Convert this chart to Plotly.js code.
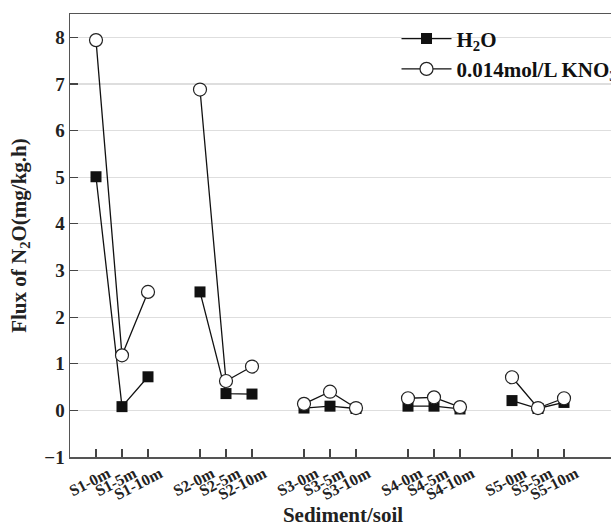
<!DOCTYPE html>
<html>
<head>
<meta charset="utf-8">
<script src="https://cdn.plot.ly/plotly-3.0.1.min.js"></script>
<style>
html,body{margin:0;padding:0;overflow:hidden;background:#fff;}
#chart{width:620px;height:527px;}
</style>
</head>
<body>
<div id="chart"></div>
<script>
const sites = ["S1", "S2", "S3", "S4", "S5"];
const depths = ["0m", "5m", "10m"];
const h2o = [
  [5.01, 0.08, 0.72],
  [2.54, 0.36, 0.35],
  [0.05, 0.09, 0.04],
  [0.09, 0.09, 0.03],
  [0.21, 0.04, 0.17]
];
const kno3 = [
  [7.94, 1.18, 2.54],
  [6.88, 0.63, 0.94],
  [0.14, 0.40, 0.05],
  [0.26, 0.28, 0.07],
  [0.71, 0.05, 0.26]
];

const FONT = "Liberation Serif, Times New Roman, serif";

function build(vals) {
  const xs = [], ys = [];
  sites.forEach((s, g) => {
    depths.forEach((d, j) => {
      xs.push(g * 4 + j + 1);
      ys.push(vals[g][j]);
    });
    if (g < sites.length - 1) { xs.push(g * 4 + 4); ys.push(null); }
  });
  return {xs, ys};
}

const tickvals = [], ticktext = [];
sites.forEach((s, g) => depths.forEach((d, j) => {
  tickvals.push(g * 4 + j + 1);
  ticktext.push(s + "-" + d);
}));

const a = build(h2o), b = build(kno3);

const traces = [
  {
    x: a.xs, y: a.ys, type: "scatter", mode: "lines+markers",
    name: "H<sub>2</sub>O", connectgaps: false,
    line: {color: "#111", width: 1.3},
    marker: {symbol: "square", size: 11, color: "#111", line: {width: 0}}
  },
  {
    x: b.xs, y: b.ys, type: "scatter", mode: "lines+markers",
    name: "0.014mol/L KNO<sub>3</sub>", connectgaps: false,
    line: {color: "#111", width: 1.3},
    marker: {symbol: "circle", size: 13, color: "#fff", line: {width: 1.2, color: "#222"}}
  }
];

const layout = {
  width: 620, height: 527,
  margin: {l: 70, r: 4, t: 14, b: 70, autoexpand: false},
  paper_bgcolor: "#fff", plot_bgcolor: "#fff",
  font: {family: FONT, color: "#222", size: 16, weight: "bold"},
  showlegend: true,
  legend: {
    x: 0.598, y: 0.99, xanchor: "left", yanchor: "top",
    bgcolor: "rgba(255,255,255,0)", borderwidth: 0,
    itemwidth: 50,
    font: {family: FONT, size: 21, color: "#111", weight: "bold"},
    tracegroupgap: 0
  },
  xaxis: {
    range: [0, 21],
    automargin: false,
    tickmode: "array", tickvals: tickvals, ticktext: ticktext,
    tickangle: -27,
    ticklabelshift: 12,
    ticks: "inside", ticklen: 8, tickcolor: "#444", tickwidth: 1.2,
    showgrid: false, zeroline: false,
    showline: true, linecolor: "#555", linewidth: 1.5, mirror: true,
    tickfont: {family: FONT, size: 16, color: "#222", weight: "bold"},
    title: {text: "Sediment/soil", font: {family: FONT, size: 21, color: "#222", weight: "bold"}, standoff: 4}
  },
  yaxis: {
    range: [-1, 8.5],
    automargin: false,
    tickmode: "linear", tick0: -1, dtick: 1,
    ticks: "inside", ticklen: 8, tickcolor: "#444", tickwidth: 1.2,
    showgrid: true, gridcolor: "#dedede", gridwidth: 1.2,
    zeroline: false,
    showline: true, linecolor: "#555", linewidth: 1.5, mirror: true,
    tickfont: {family: FONT, size: 19, color: "#222", weight: "bold"},
    title: {text: "Flux of N<sub>2</sub>O(mg/kg.h)", font: {family: FONT, size: 21, color: "#222", weight: "bold"}, standoff: 12}
  }
};

Plotly.newPlot("chart", traces, layout, {displayModeBar: false, staticPlot: true});
</script>
</body>
</html>
